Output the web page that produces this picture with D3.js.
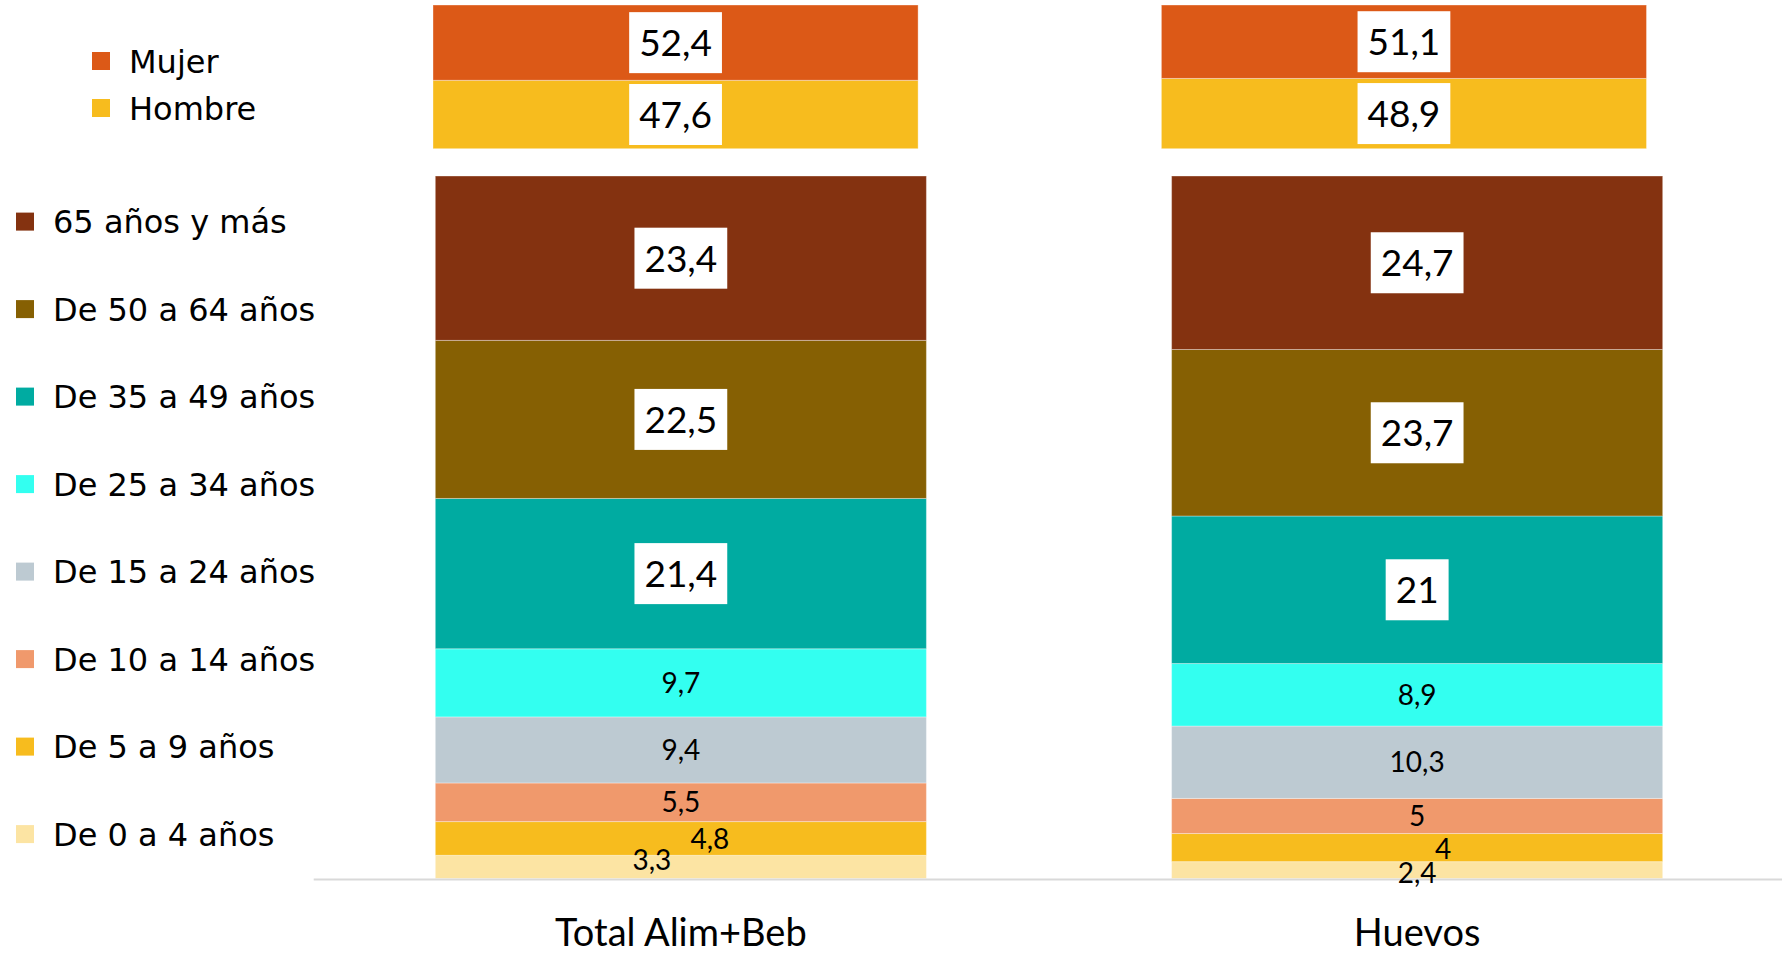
<html>
<head>
<meta charset="utf-8">
<script src="https://d3js.org/d3.v7.min.js"></script>
<style>
body { margin: 0; background: #fff; }
.legend text { font-family: "DejaVu Sans", Verdana, sans-serif; font-size: 32px; fill: #000; }
.lbl { font-family: Lato, "Open Sans", sans-serif; fill: #000; }
.cat text { font-family: Lato, "Open Sans", sans-serif; font-size: 38px; fill: #000; }
</style>
</head>
<body>
<script>
// datos
var categories = ["Total Alim+Beb", "Huevos"];
var genders = ["Hombre", "Mujer"];              // de abajo a arriba
var mujer  = [52.4, 51.1];
var hombre = [47.6, 48.9];

var ageGroups = ["De 0 a 4 años", "De 5 a 9 años", "De 10 a 14 años", "De 15 a 24 años",
                 "De 25 a 34 años", "De 35 a 49 años", "De 50 a 64 años", "65 años y más"];
var ageTotal  = [3.3, 4.8, 5.5, 9.4, 9.7, 21.4, 22.5, 23.4];
var ageHuevos = [2.4, 4, 5, 10.3, 8.9, 21, 23.7, 24.7];

var genderColors = {"Mujer": "#dc5917", "Hombre": "#f7bc1e"};
var ageColors = ["#fce4a3", "#f7bc1e", "#f0996c", "#bdcad2", "#33fff0", "#00aba1", "#866003", "#843210"];

var w = 1782, h = 955;
var svg = d3.select("body").append("svg").attr("width", w).attr("height", h);

var fmt = function(v){ return String(v).replace(".", ","); };

// tablas para d3.stack
var genderRows = categories.map(function(c, i){ return {cat: c, Hombre: hombre[i], Mujer: mujer[i]}; });
var ageRows = categories.map(function(c, i){
  var r = {cat: c};
  ageGroups.forEach(function(g, j){ r[g] = [ageTotal, ageHuevos][i][j]; });
  return r;
});

// escalas
var xG = d3.scaleBand().domain(categories).range([433, 1646.5]).paddingInner(0.334).paddingOuter(0);
var yG = d3.scaleLinear().domain([0, 100]).range([148.7, 5]);
var xA = d3.scaleBand().domain(categories).range([435.3, 1662.7]).paddingInner(0.333).paddingOuter(0);
var yA = d3.scaleLinear().domain([0, 100]).range([878.5, 176]);

var gStack = d3.stack().keys(genders)(genderRows);
var aStack = d3.stack().keys(ageGroups)(ageRows);

// barras sexo
var gLayers = svg.append("g").selectAll("g").data(gStack).join("g")
  .attr("fill", function(d){ return genderColors[d.key]; });
gLayers.selectAll("rect").data(function(d){ return d; }).join("rect")
  .attr("x", function(d){ return xG(d.data.cat); })
  .attr("width", xG.bandwidth())
  .attr("y", function(d){ return yG(d[1]); })
  .attr("height", function(d){ return yG(d[0]) - yG(d[1]); })
  .attr("stroke", "rgba(255,255,255,0.35)").attr("stroke-width", 1);

// barras edad
var aLayers = svg.append("g").selectAll("g").data(aStack).join("g")
  .attr("fill", function(d, i){ return ageColors[i]; });
aLayers.selectAll("rect").data(function(d){ return d; }).join("rect")
  .attr("x", function(d){ return xA(d.data.cat); })
  .attr("width", xA.bandwidth())
  .attr("y", function(d){ return yA(d[1]); })
  .attr("height", function(d){ return yA(d[0]) - yA(d[1]); })
  .attr("stroke", "rgba(255,255,255,0.35)").attr("stroke-width", 1);

// linea base
svg.append("line")
  .attr("x1", 313.7).attr("x2", w)
  .attr("y1", yA(0) + 1).attr("y2", yA(0) + 1)
  .attr("stroke", "#d9d9d9").attr("stroke-width", 2);

// etiquetas con caja blanca
function boxedLabel(x, y, v){
  var g = svg.append("g");
  var r = g.append("rect").attr("fill", "#fff");
  var t = g.append("text").attr("class", "lbl")
    .attr("x", x).attr("y", y).attr("dy", "0.36em")
    .attr("text-anchor", "middle").style("font-size", "37px")
    .text(fmt(v));
  var bb = t.node().getBBox();
  r.attr("x", x - bb.width / 2 - 10).attr("width", bb.width + 20)
   .attr("y", y - 30.5).attr("height", 61);
}

gStack.forEach(function(layer){
  layer.forEach(function(d){
    boxedLabel(xG(d.data.cat) + xG.bandwidth() / 2, (yG(d[0]) + yG(d[1])) / 2, d[1] - d[0]);
  });
});

// ajustes de posicion de las etiquetas pequeñas que se solapan
var nudge = {
  "Total Alim+Beb|De 5 a 9 años": [29, 0],
  "Total Alim+Beb|De 0 a 4 años": [-29, -7],
  "Huevos|De 5 a 9 años": [26, 1],
  "Huevos|De 0 a 4 años": [0, 3]
};

aStack.forEach(function(layer, li){
  layer.forEach(function(d){
    var v = Math.round((d[1] - d[0]) * 10) / 10;
    var cx = xA(d.data.cat) + xA.bandwidth() / 2;
    var cy = (yA(d[0]) + yA(d[1])) / 2;
    if (li >= 5) {
      boxedLabel(cx, cy, v);
    } else {
      var n = nudge[d.data.cat + "|" + layer.key] || [0, 0];
      svg.append("text").attr("class", "lbl")
        .attr("x", cx + n[0]).attr("y", cy + n[1]).attr("dy", "0.36em")
        .attr("text-anchor", "middle").style("font-size", "28px")
        .text(fmt(v));
    }
  });
});

// eje de categorias
var xAxis = d3.axisBottom(xA).tickSize(0).tickPadding(0);
var ax = svg.append("g").attr("class", "cat").attr("transform", "translate(0,946)").call(xAxis);
ax.select(".domain").remove();
ax.selectAll("text").attr("dy", 0).attr("y", 0);

// leyenda sexo
var lg = svg.append("g").attr("class", "legend");
var gLeg = lg.selectAll("g.gl").data(["Mujer", "Hombre"]).join("g").attr("class", "gl")
  .attr("transform", function(d, i){ return "translate(92," + (61 + i * 47) + ")"; });
gLeg.append("rect").attr("x", 0).attr("y", -9).attr("width", 18).attr("height", 18)
  .attr("fill", function(d){ return genderColors[d]; });
gLeg.append("text").attr("x", 37).attr("dy", "0.36em").text(function(d){ return d; });

// leyenda edad
var ageLegend = ageGroups.slice().reverse();
var aLeg = lg.selectAll("g.al").data(ageLegend).join("g").attr("class", "al")
  .attr("transform", function(d, i){ return "translate(16," + (221.6 + i * 87.5) + ")"; });
aLeg.append("rect").attr("x", 0).attr("y", -9).attr("width", 18).attr("height", 18)
  .attr("fill", function(d){ return ageColors[ageGroups.indexOf(d)]; });
aLeg.append("text").attr("x", 37).attr("dy", "0.36em").text(function(d){ return d; });
</script>
</body>
</html>
